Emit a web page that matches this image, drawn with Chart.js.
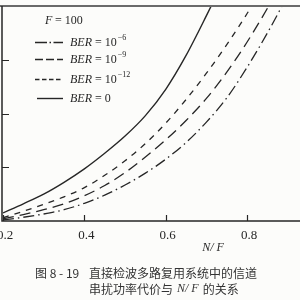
<!DOCTYPE html>
<html>
<head>
<meta charset="utf-8">
<script src="https://cdn.jsdelivr.net/npm/chart.js@4"></script>
<style>
  html, body { margin: 0; padding: 0; background: #fcfcfa; }
  canvas { display: block; }
</style>
</head>
<body>
<canvas id="chart1" width="300" height="300"></canvas>
<script>
// N/F positions shared by all curves
const nfValues = [0.2, 0.25, 0.3, 0.35, 0.4, 0.45, 0.5, 0.55, 0.6, 0.65, 0.7, 0.75, 0.8, 0.85, 0.9];

// crosstalk power penalty (arbitrary units, axis 0..4)
const berZero = [0.15, 0.32, 0.5, 0.72, 0.97, 1.26, 1.58, 1.96, 2.45, 3.08, 3.82, 4.6];
const ber12 = [0.06, 0.18, 0.31, 0.45, 0.62, 0.85, 1.12, 1.44, 1.82, 2.26, 2.75, 3.28, 3.86, 4.5];
const ber9 = [0.04, 0.12, 0.21, 0.32, 0.47, 0.66, 0.9, 1.19, 1.51, 1.87, 2.28, 2.77, 3.33, 3.96, 4.65];
const ber6 = [0.02, 0.07, 0.13, 0.21, 0.33, 0.48, 0.67, 0.89, 1.15, 1.46, 1.84, 2.29, 2.86, 3.5, 4.2];

const xTicks = [0.2, 0.4, 0.6, 0.8];
const xTickLabels = ["0.2", "0.4", "0.6", "0.8"];
const yTicks = [1, 2, 3];

const legendExponents = ["−6", "−9", "−12", null];
const captionLine1 = ["图 8 - 19", "直接检波多路复用系统中的信道"];
const captionLine2 = ["串扰功率代价与", "N/F", "的关系"];

const ink = "#262626";
const serif = '"Liberation Serif", "DejaVu Serif", serif';
const cjk = '"Noto Sans CJK SC", sans-serif';

const toPoints = (ys) => ys.map((y, i) => ({ x: nfValues[i], y }));

const makeSet = (label, ys, dash, width, legendDash) => ({
    label,
    data: toPoints(ys),
    borderColor: ink,
    borderWidth: width,
    borderDash: dash,
    legendDash,
    pointRadius: 0,
    fill: false,
    cubicInterpolationMode: "monotone",
});

// legend order in the figure
const data = {
    datasets: [
        makeSet("BER = 10⁻⁶", ber6, [11, 4, 1.5, 4], 1.3, [12, 2.5, 1.5, 2.5]),
        makeSet("BER = 10⁻⁹", ber9, [11, 6], 1.3, [8, 3]),
        makeSet("BER = 10⁻¹²", ber12, [6, 6], 1.3, [4.5, 2.5]),
        makeSet("BER = 0", berZero, [], 1.4, []),
    ],
};

const paper = {
    id: "paper",
    beforeDraw(chart) {
        const { ctx, width, height } = chart;
        ctx.save();
        ctx.fillStyle = "#fcfcfa";
        ctx.fillRect(0, 0, width, height);
        ctx.restore();
    },
    afterDraw(chart) {
        const { ctx, chartArea: area } = chart;
        const xs = chart.scales.x;
        const ys = chart.scales.y;
        ctx.save();

        // frame: grey top rule, left and bottom axes
        ctx.strokeStyle = "#6a6a6a";
        ctx.lineWidth = 2;
        ctx.beginPath();
        ctx.moveTo(0, area.top);
        ctx.lineTo(300, area.top);
        ctx.stroke();

        ctx.strokeStyle = ink;
        ctx.lineWidth = 1.5;
        ctx.beginPath();
        ctx.moveTo(area.left - 1, area.top);
        ctx.lineTo(area.left - 1, area.bottom);
        ctx.lineTo(area.right, area.bottom);
        ctx.stroke();

        // inward ticks
        ctx.lineWidth = 1.2;
        ctx.beginPath();
        yTicks.forEach((v) => {
            const py = Math.round(ys.getPixelForValue(v)) + 0.5;
            ctx.moveTo(area.left - 1, py);
            ctx.lineTo(area.left + 6, py);
        });
        xTicks.forEach((v) => {
            const px = Math.round(xs.getPixelForValue(v)) + 0.5;
            ctx.moveTo(px, area.bottom);
            ctx.lineTo(px, area.bottom - 6);
        });
        ctx.stroke();

        // tick labels
        ctx.fillStyle = ink;
        ctx.font = "13px " + serif;
        ctx.textAlign = "center";
        ctx.textBaseline = "middle";
        xTicks.forEach((v, i) => {
            ctx.fillText(xTickLabels[i], xs.getPixelForValue(v) + 2, area.bottom + 15);
        });

        // axis title
        ctx.font = "italic 12px " + serif;
        ctx.fillText("N/ F", 213, area.bottom + 27);

        // legend
        ctx.textAlign = "left";
        ctx.font = "italic 12px " + serif;
        ctx.fillText("F", 45, 21);
        ctx.font = "12px " + serif;
        ctx.fillText("= 100", 55, 21);

        const rows = [42, 59, 79, 98];
        chart.data.datasets.forEach((ds, i) => {
            const y = rows[i] + 0.5;
            ctx.setLineDash(ds.legendDash);
            ctx.lineWidth = 1.4;
            ctx.beginPath();
            ctx.moveTo(i === 3 ? 37 : 35, y);
            ctx.lineTo(63, y);
            ctx.stroke();
            ctx.setLineDash([]);

            let x = 70;
            ctx.font = "italic 12px " + serif;
            ctx.fillText("BER", x, rows[i] + 1);
            x += ctx.measureText("BER").width;
            ctx.font = "12px " + serif;
            const rest = legendExponents[i] ? " = 10" : " = 0";
            ctx.fillText(rest, x, rows[i] + 1);
            x += ctx.measureText(rest).width + 1;
            if (legendExponents[i]) {
                ctx.font = "8px " + serif;
                ctx.fillText(legendExponents[i], x, rows[i] - 4);
            }
        });

        // caption
        ctx.fillStyle = "#333";
        ctx.font = "12px " + cjk;
        ctx.fillText(captionLine1[0], 35, 273);
        ctx.fillText(captionLine1[1], 89, 273);
        let cx = 89;
        ctx.fillText(captionLine2[0], cx, 289);
        cx += ctx.measureText(captionLine2[0]).width + 4;
        ctx.font = "italic 12px " + serif;
        ctx.fillText("N/ F", cx, 289);
        cx += ctx.measureText("N/ F").width + 4;
        ctx.font = "12px " + cjk;
        ctx.fillText(captionLine2[2], cx, 289);

        ctx.restore();
    },
};

new Chart(document.getElementById("chart1"), {
    type: "line",
    data,
    plugins: [paper],
    options: {
        responsive: false,
        animation: false,
        devicePixelRatio: 1,
        layout: {
            padding: { left: 3, right: 0, top: 6, bottom: 79 },
        },
        plugins: {
            legend: { display: false },
            tooltip: { enabled: false },
        },
        scales: {
            x: { type: "linear", min: 0.2, max: 0.93, display: false },
            y: { min: 0, max: 4, display: false },
        },
    },
});
</script>
</body>
</html>
